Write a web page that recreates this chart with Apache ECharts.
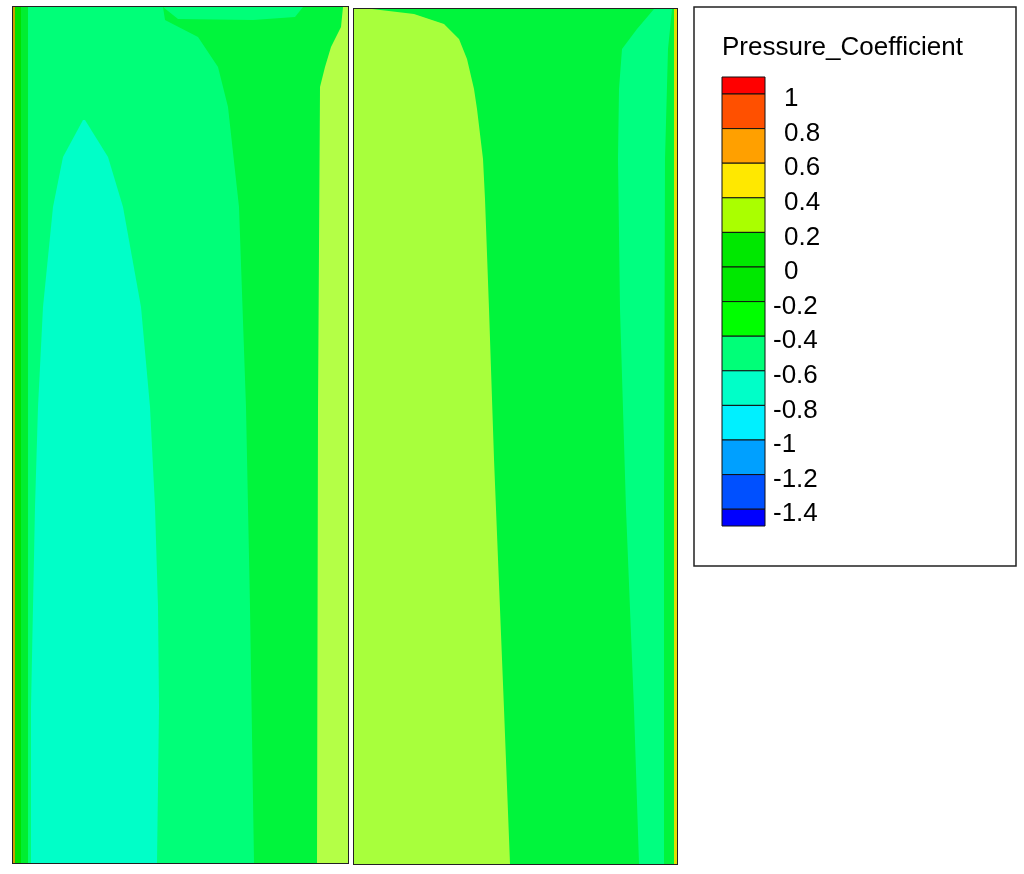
<!DOCTYPE html>
<html><head><meta charset="utf-8">
<script src="https://cdn.jsdelivr.net/npm/echarts@6/dist/echarts.min.js"></script>
<style>html,body{margin:0;background:#fff}#chart{width:1024px;height:874px}</style>
</head><body><div id="chart"></div>
<script>
// contour level legend
const legendLevels = [1, 0.8, 0.6, 0.4, 0.2, 0, -0.2, -0.4, -0.6, -0.8, -1, -1.2, -1.4];
const legendColors = ['#ff0000', '#ff5000', '#ffa000', '#ffe800', '#aaff00', '#00e800', '#00e800', '#00ff00',
  '#00ff78', '#00ffc8', '#00f0ff', '#00a0ff', '#0050ff', '#0000ff'];

// band colours seen on the surfaces
const cMid = '#00ff78';      // -0.6 .. -0.4
const cLow = '#00ffc8';      // -0.8 .. -0.6
const cGreen = '#00f53c';    // -0.4 .. -0.2
const cEdge = '#00e000';
const cYg = '#b4ff46';
const cYg2 = '#a8ff3c';

// left panel boundaries [x, y] in panel units (0..335 wide, 0..856 tall)
const leftTongueL = [[70, 113], [50, 150], [40, 200], [30, 300], [25, 400], [22, 500], [20, 600], [18, 700], [18, 856]];
const leftTongueR = [[72, 113], [95, 150], [110, 200], [128, 300], [137, 400], [142, 500], [145, 600], [146, 700], [144, 856]];
const leftGreenEdge = [[150, 0], [152, 13], [185, 30], [205, 60], [215, 100], [226, 200], [233, 400], [237, 600], [241, 856]];
const leftTopStrip = [[150, 0], [290, 0], [282, 10], [240, 13], [165, 12]];
const leftYgEdge = [[330, 0], [328, 20], [318, 40], [312, 60], [307, 80], [305, 400], [304, 856]];

// right panel boundaries (0..323 wide, 0..855 tall)
const rightYgEdge = [[18, 0], [60, 5], [90, 15], [105, 30], [113, 50], [120, 80], [123, 100], [129, 150], [131, 190],
  [135, 300], [140, 450], [146, 600], [150, 700], [156, 855]];
const rightTealL = [[300, 0], [283, 20], [268, 40], [265, 80], [264, 150], [266, 300], [272, 500], [280, 700], [285, 855]];
const rightTealR = [[318, 0], [314, 40], [311, 150], [310, 500], [310, 855]];

const W1 = 335, H1 = 856, W2 = 323, H2 = 855;
const rev = a => a.slice().reverse();

const leftPolys = [
  { pts: [[0, 0], [W1, 0], [W1, H1], [0, H1]], color: cMid },
  { pts: leftGreenEdge.concat([[W1, H1], [W1, 0]]), color: cGreen },
  { pts: leftTopStrip, color: cMid },
  { pts: leftYgEdge.concat([[W1, H1], [W1, 0]]), color: cYg },
  { pts: leftTongueL.concat(rev(leftTongueR)), color: cLow },
  { pts: [[0, 0], [15, 0], [15, H1], [0, H1]], color: '#00ee30' },
  { pts: [[0, 0], [8, 0], [8, H1], [0, H1]], color: cEdge },
  { pts: [[0, 0], [2, 0], [2, H1], [0, H1]], color: '#c8a000' }
];
const rightPolys = [
  { pts: [[0, 0], [W2, 0], [W2, H2], [0, H2]], color: cGreen },
  { pts: [[0, 0]].concat(rightYgEdge, [[0, H2]]), color: cYg2 },
  { pts: rightTealL.concat(rev(rightTealR)), color: '#00ff80' },
  { pts: [[320, 0], [W2, 0], [W2, H2], [320, H2]], color: '#e0e000' }
];

function polySeries(polys, idx) {
  return {
    type: 'custom', xAxisIndex: idx, yAxisIndex: idx, silent: true,
    data: polys.map((p, i) => [i, 0]),
    renderItem: (params, api) => {
      const p = polys[params.dataIndex];
      return {
        type: 'polygon',
        shape: { points: p.pts.map(pt => api.coord(pt)) },
        style: { fill: p.color }
      };
    }
  };
}

const top0 = 77, bandH = 34.6, firstB = 94;
const font = '26px "Liberation Sans", Arial';
const graphics = [
  { type: 'rect', shape: { x: 694, y: 7, width: 322, height: 559 }, style: { fill: '#fff', stroke: '#222', lineWidth: 1.5 } },
  { type: 'text', x: 722, y: 48, style: { text: 'Pressure_Coefficient', font: font, fill: '#000', verticalAlign: 'middle' } }
];
legendColors.forEach((c, i) => {
  const y0 = i === 0 ? top0 : firstB + (i - 1) * bandH;
  const y1 = i === legendColors.length - 1 ? 526 : firstB + i * bandH;
  graphics.push({ type: 'rect', shape: { x: 722, y: y0, width: 43, height: y1 - y0 }, style: { fill: c, stroke: '#111', lineWidth: 1 } });
});
legendLevels.forEach((v, i) => {
  graphics.push({ type: 'text', x: v < 0 ? 773 : 784, y: firstB + i * bandH + 5,
    style: { text: String(v), font: font, fill: '#000', verticalAlign: 'middle' } });
});

const chart = echarts.init(document.getElementById('chart'));
chart.setOption({
  animation: false,
  grid: [
    { left: 13, top: 7, width: W1, height: H1, show: true, borderColor: '#222', borderWidth: 2, backgroundColor: 'transparent' },
    { left: 354, top: 9, width: W2, height: H2, show: true, borderColor: '#222', borderWidth: 2, backgroundColor: 'transparent' }
  ],
  xAxis: [
    { type: 'value', gridIndex: 0, min: 0, max: W1, show: false },
    { type: 'value', gridIndex: 1, min: 0, max: W2, show: false }
  ],
  yAxis: [
    { type: 'value', gridIndex: 0, min: 0, max: H1, inverse: true, show: false },
    { type: 'value', gridIndex: 1, min: 0, max: H2, inverse: true, show: false }
  ],
  series: [polySeries(leftPolys, 0), polySeries(rightPolys, 1)],
  graphic: graphics
});
</script></body></html>
